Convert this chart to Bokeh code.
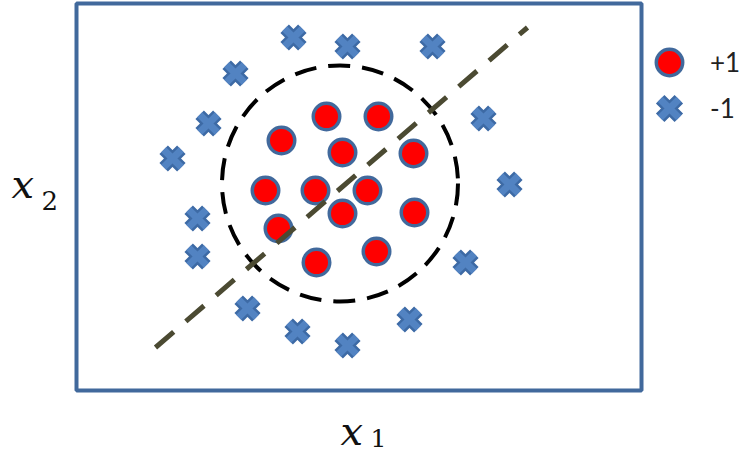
from bokeh.plotting import figure
from bokeh.models import Range1d, Label, Legend, LegendItem, ColumnDataSource, BoxAnnotation
from bokeh.embed import file_html
from bokeh.resources import INLINE

# ---- data (plot units, origin at lower-left of the boxed plot area) ----
pos_x = [250, 302, 205, 266, 337, 189, 239, 291, 266, 338, 202, 300, 240]
pos_y = [274, 274, 250, 238, 237, 200, 200, 200, 177, 178, 162, 139, 128]

neg_x = [217, 271, 356, 159, 132, 407, 96, 433, 121, 121, 389, 171, 333, 221, 271]
neg_y = [353, 344, 344, 317, 267, 272, 232, 206, 172, 134, 128, 82, 71, 59, 45]

# dashed circular boundary (center, radius)
circle_cx = [263.5]
circle_cy = [207]
circle_r = [118]

# linear boundary end points
line_x = [79, 451]
line_y = [43, 363]

labels = ["+1", "-1"]

BLUE_EDGE = "#41699c"
X_DARK = "#3d6aa5"
X_LIGHT = "#5283c2"

p = figure(width=747, height=454, min_border=0,
           x_range=Range1d(-76, 671), y_range=Range1d(-64, 390),
           x_axis_location=None, y_axis_location=None,
           output_backend="svg", toolbar_location=None)
p.grid.visible = False
p.outline_line_color = None
p.background_fill_color = "white"
p.border_fill_color = "white"

# plot box
p.add_layout(BoxAnnotation(left=0, right=565, bottom=0, top=387,
                           fill_alpha=0, line_color=BLUE_EDGE, line_alpha=1,
                           line_width=4, level="underlay"))

# dashed circle
p.circle(x=circle_cx, y=circle_cy, radius=circle_r, fill_alpha=0,
         line_color="black", line_width=4, line_dash="22 12")

# -1 points
src_neg = ColumnDataSource(dict(x=neg_x, y=neg_y))
r_xd = p.scatter("x", "y", source=src_neg, marker="x", size=25,
                 line_color=X_DARK, line_width=12)
r_xl = p.scatter("x", "y", source=src_neg, marker="x", size=25,
                 line_color=X_LIGHT, line_width=7)

# +1 points
src_pos = ColumnDataSource(dict(x=pos_x, y=pos_y))
r_pos = p.scatter("x", "y", source=src_pos, marker="circle", size=26.5,
                  fill_color="#ff0000", line_color=BLUE_EDGE, line_width=3.5)

# linear boundary
p.line(line_x, line_y, line_color="#4b4a32", line_width=5, line_dash="24 16")

def leg(item, loc):
    lg = Legend(items=[item], location=loc, glyph_width=66, glyph_height=66,
                padding=0, margin=0, label_standoff=8,
                border_line_alpha=0, background_fill_alpha=0,
                label_text_font="Lato", label_text_font_size="26px",
                label_text_color="#222222")
    p.add_layout(lg)

leg(LegendItem(label=labels[0], renderers=[r_pos]), (636, 359))
leg(LegendItem(label=labels[1], renderers=[r_xd, r_xl]), (636, 313))

def lab(x, y, t, size, italic):
    p.add_layout(Label(x=x, y=y, text=t,
                       text_font="DejaVu Serif",
                       text_font_style="italic" if italic else "normal",
                       text_font_size=size, text_baseline="alphabetic",
                       text_color="#111111"))

lab(264, -40, "x", "40px", True)
lab(294, -47, "1", "25px", False)
lab(-65, 207, "x", "40px", True)
lab(-35, 190, "2", "26px", False)

open("out.html", "w").write(file_html(p, INLINE))
